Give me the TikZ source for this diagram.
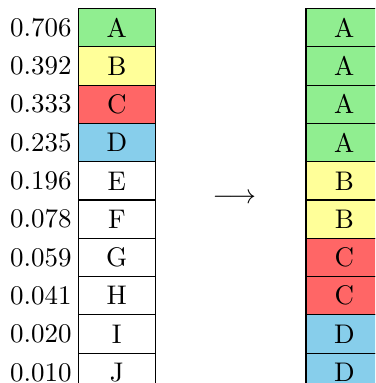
\documentclass[tikz,border=0pt]{standalone}

\definecolor{cellA}{RGB}{144,238,144}
\definecolor{cellB}{RGB}{255,255,153}
\definecolor{cellC}{RGB}{255,102,102}
\definecolor{cellD}{RGB}{135,206,235}

\begin{document}
\begin{tikzpicture}[cell/.style={draw,minimum width=1cm,minimum height=0.5cm,inner sep=0pt}]
\useasboundingbox (0,0) rectangle (4.896,5);

\begin{scope}
\clip (0,0) rectangle (4.896,5);

% left column with values
\foreach \lab/\val/\col [count=\i from 0] in {A/0.706/cellA,B/0.392/cellB,C/0.333/cellC,D/0.235/cellD,E/0.196/white,F/0.078/white,G/0.059/white,H/0.041/white,I/0.020/white,J/0.010/white}
{
  \node[cell,fill=\col] (l\i) at (1.525,4.639-0.5*\i) {\lab};
  \node[left,inner xsep=2.2pt] (v\i) at (l\i.west) {$\val$};
}

% right column
\foreach \lab/\col [count=\i from 0] in {A/cellA,A/cellA,A/cellA,A/cellA,B/cellB,B/cellB,C/cellC,C/cellC,D/cellD,D/cellD}
  \node[cell,fill=\col] (r\i) at (4.495,4.639-0.5*\i) {\lab};

\end{scope}

\node (arr) at (3.06,2.41) {$\longrightarrow$};

\end{tikzpicture}
\end{document}
